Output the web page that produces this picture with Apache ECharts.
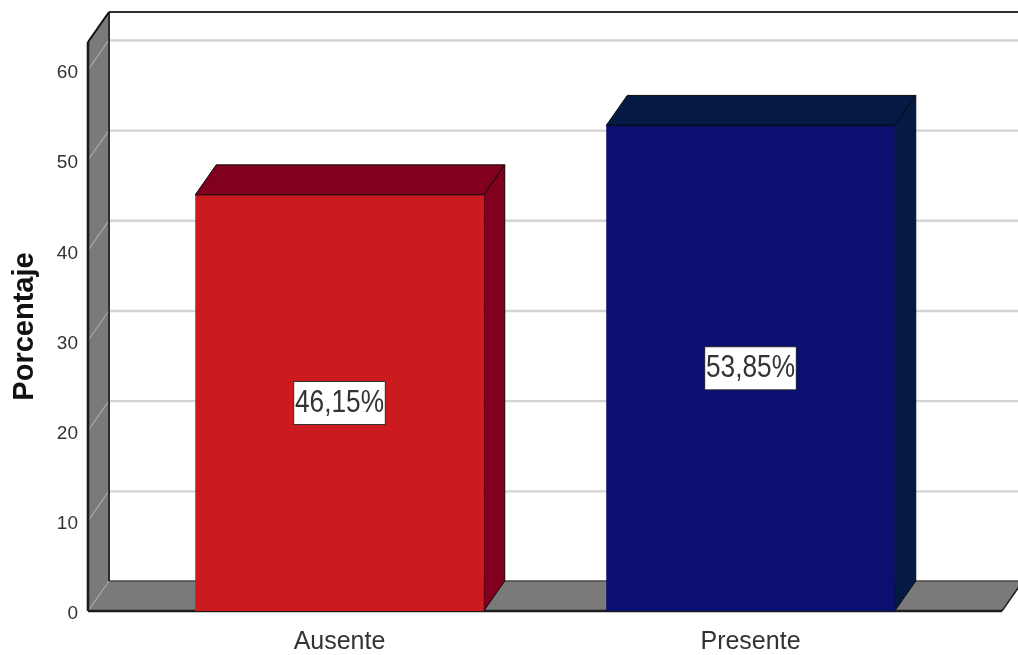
<!DOCTYPE html>
<html><head><meta charset="utf-8">
<style>html,body{margin:0;padding:0;background:#fff}#c{width:1018px;height:655px}</style>
<script src="https://cdn.jsdelivr.net/npm/echarts@6/dist/echarts.min.js"></script>
</head><body><div id="c"></div>
<script>
const categories = ['Ausente', 'Presente'];
const percentages = [46.15, 53.85];
const wallTicks = [0, 10, 20, 30, 40, 50, 60];
const axisTitle = 'Porcentaje';

const frontColors = ['#cc1b1f', '#0a0f70'];
const sideColors = ['#80001e', '#041a45'];
const DEPTH_X = 21, DEPTH_Y = -30, WALL_OUT = 46;
const SANS = '"Liberation Sans",Arial,sans-serif';
const WALL = '#7a7a7a';

function line(x1, y1, x2, y2, stroke, lineWidth) {
  return { type: 'line', shape: { x1, y1, x2, y2 }, style: { stroke, lineWidth, fill: null } };
}
function poly(points, fill, stroke, lineWidth) {
  return { type: 'polygon', shape: { points }, style: { fill, stroke, lineWidth: lineWidth || 0 } };
}

function renderScene(params, api) {
  const cs = params.coordSys;
  const L = cs.x - WALL_OUT, R = cs.x + cs.width + WALL_OUT;
  const y0 = cs.y + cs.height, top = cs.y;
  const dx = DEPTH_X, dy = DEPTH_Y;
  const children = [
    poly([[L, y0], [R, y0], [R + dx, y0 + dy], [L + dx, y0 + dy]], WALL),
    poly([[L, y0], [L + dx, y0 + dy], [L + dx, top + dy], [L, top]], WALL)
  ];
  wallTicks.forEach(function (t) {
    const y = api.coord([0, t])[1];
    children.push(line(L, y, L + dx, y + dy, '#a8a8a8', 1.2));
    if (t > 0) children.push(line(L + dx, y + dy + 0.5, R + dx, y + dy + 0.5, '#d4d4d4', 2.4));
  });
  children.push(line(L + dx, y0 + dy, R + dx, y0 + dy, '#4a4a4a', 1.5));
  children.push(line(L + dx, top + dy, R + dx, top + dy, '#2e2e2e', 2));
  children.push(line(L + dx, top + dy, L + dx, y0 + dy, '#2e2e2e', 2));
  children.push(line(L, top, L + dx, top + dy, '#111', 2));
  children.push(line(L, top, L, y0, '#1c1c1c', 2.6));
  children.push(line(L, y0, R, y0, '#1c1c1c', 2.6));
  children.push(line(R, y0, R + dx, y0 + dy, '#222', 1.5));
  return { type: 'group', children };
}

function renderBar(params, api) {
  const i = api.value(0), v = api.value(1);
  const c = api.coord([i, v]), b = api.coord([i, 0]);
  const w = api.size([1, 0])[0] * 0.702;
  const x1 = c[0] - w / 2, x2 = c[0] + w / 2, yT = c[1], yB = b[1];
  const dx = DEPTH_X, dy = DEPTH_Y;
  const idx = params.dataIndex;
  const side = sideColors[idx];
  return {
    type: 'group',
    children: [
      poly([[x1, yT], [x2, yT], [x2 + dx, yT + dy], [x1 + dx, yT + dy]], side, '#0a0a0a', 1),
      poly([[x2, yT], [x2 + dx, yT + dy], [x2 + dx, yB + dy], [x2, yB]], side, '#0a0a0a', 1),
      { type: 'rect', shape: { x: x1, y: yT, width: w, height: yB - yT },
        style: { fill: frontColors[idx] } },
      line(x1, yT, x2, yT, '#0a0a0a', 1),
      { type: 'text', x: c[0], y: (yT + yB) / 2, scaleX: 0.82, style: {
          text: v.toFixed(2).replace('.', ',') + '%',
          align: 'center', verticalAlign: 'middle',
          font: '32px ' + SANS, fill: '#333',
          backgroundColor: '#fff', borderColor: '#333', borderWidth: 1,
          padding: [3, 1, 3, 1], lineHeight: 36 } }
    ]
  };
}

const chart = echarts.init(document.getElementById('c'), null, { renderer: 'canvas' });
chart.setOption({
  animation: false,
  backgroundColor: '#fff',
  grid: { left: 134, right: 62, top: 42, bottom: 44 },
  xAxis: {
    type: 'category', data: categories,
    axisLine: { show: false }, axisTick: { show: false },
    axisLabel: { fontFamily: SANS, fontSize: 25, color: '#333', margin: 19 }
  },
  yAxis: {
    type: 'value', min: 0, max: 63.1, interval: 10, offset: 46,
    splitLine: { show: false },
    axisLine: { show: false }, axisTick: { show: false },
    axisLabel: { fontFamily: SANS, fontSize: 19, color: '#333', margin: 10, showMaxLabel: false, verticalAlign: 'top', lineHeight: 6 },
    name: axisTitle, nameLocation: 'middle', nameGap: 49,
    nameTextStyle: { fontFamily: SANS, fontWeight: 'bold', fontSize: 29, color: '#111' }
  },
  series: [
    { type: 'custom', z: 1, silent: true, renderItem: renderScene, data: [[0, 0]], encode: { x: 0, y: 1 } },
    { type: 'custom', z: 2, silent: true, renderItem: renderBar,
      data: percentages.map(function (v, i) { return [i, v]; }), encode: { x: 0, y: 1 } }
  ]
});
</script></body></html>
